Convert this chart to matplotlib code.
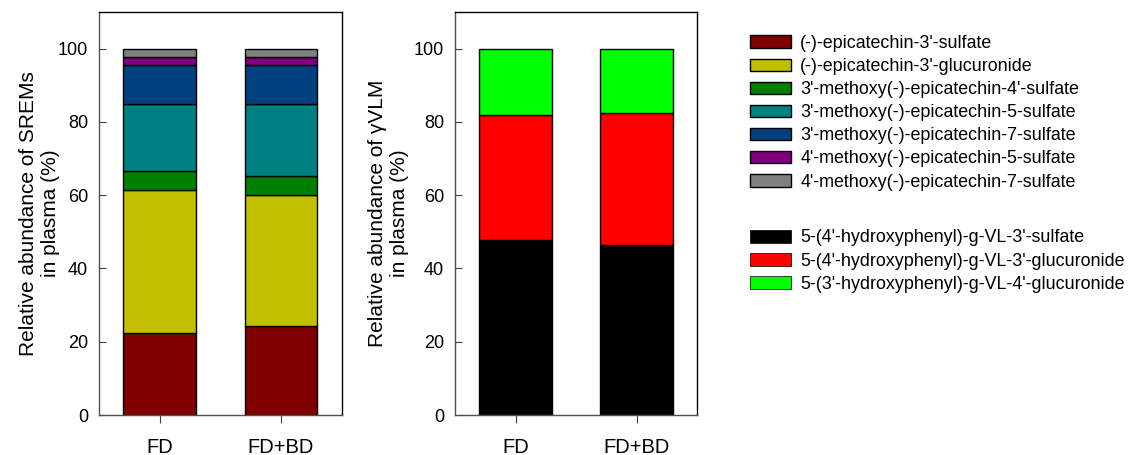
import matplotlib
matplotlib.use("Agg")

import matplotlib.pyplot as plt
import matplotlib.patches as mpatches
import numpy as np

plt.rcParams["font.family"] = ["Liberation Sans", "DejaVu Sans"]

GROUPS = ["FD", "FD+BD"]

# SREMs composition (% of total), bottom to top
SREM_NAMES = [
    "(-)-epicatechin-3'-sulfate",
    "(-)-epicatechin-3'-glucuronide",
    "3'-methoxy(-)-epicatechin-4'-sulfate",
    "3'-methoxy(-)-epicatechin-5-sulfate",
    "3'-methoxy(-)-epicatechin-7-sulfate",
    "4'-methoxy(-)-epicatechin-5-sulfate",
    "4'-methoxy(-)-epicatechin-7-sulfate",
]
SREM_FD = [22.3, 39.2, 5.2, 18.2, 10.7, 2.0, 2.4]
SREM_FDBD = [24.3, 35.8, 5.0, 19.8, 10.5, 2.2, 2.4]
SREM_COLORS = ["#800000", "#C0C000", "#008000", "#008080",
               "#00407F", "#800080", "#808080"]

# gamma-VLM composition (% of total), bottom to top
VLM_NAMES = [
    "5-(4'-hydroxyphenyl)-g-VL-3'-sulfate",
    "5-(4'-hydroxyphenyl)-g-VL-3'-glucuronide",
    "5-(3'-hydroxyphenyl)-g-VL-4'-glucuronide",
]
VLM_FD = [47.7, 34.2, 18.1]
VLM_FDBD = [46.3, 36.1, 17.6]
VLM_COLORS = ["#000000", "#FF0000", "#00FF00"]

W, H = 1129, 455


def stacked(ax, fd, fdbd, colors):
    x = np.arange(1, len(GROUPS) + 1)
    vals = np.array([fd, fdbd]).T
    bottom = np.zeros(len(GROUPS))
    for row, c in zip(vals, colors):
        ax.bar(x, row, bottom=bottom, width=0.6, color=c,
               edgecolor="black", linewidth=1.0)
        bottom += row
    ax.set_xlim(0.5, 2.5)
    ax.set_ylim(0, 110)
    ax.set_xticks(x)
    ax.set_xticklabels(GROUPS, fontsize=14.5)
    ax.set_yticks([0, 20, 40, 60, 80, 100])
    ax.tick_params(axis="y", direction="in", length=5, labelsize=13,
                   color="#404040", pad=8)
    ax.tick_params(axis="x", direction="out", length=6, color="#404040",
                   pad=10.5)
    ax.spines["left"].set_color("#505050")
    ax.spines["bottom"].set_color("#505050")
    for s in ax.spines.values():
        s.set_linewidth(1.0)


fig = plt.figure(figsize=(W / 100, H / 100), dpi=100)

ax1 = fig.add_axes([99 / W, 40 / H, 242.5 / W, 403 / H])
stacked(ax1, SREM_FD, SREM_FDBD, SREM_COLORS)
ax1.set_ylabel("Relative abundance of SREMs\nin plasma (%)", fontsize=15,
               linespacing=1.2, labelpad=-1.5)

ax2 = fig.add_axes([455 / W, 40 / H, 242 / W, 403 / H])
stacked(ax2, VLM_FD, VLM_FDBD, VLM_COLORS)
ax2.set_ylabel("Relative abundance of γVLM\nin plasma (%)", fontsize=15,
               linespacing=1.2, labelpad=3.5)

# legends
h1 = [mpatches.Patch(facecolor=c, edgecolor="black", linewidth=1.0)
      for c in SREM_COLORS]
h2 = [mpatches.Patch(facecolor=c, edgecolor="black", linewidth=0.5)
      for c in VLM_COLORS]
leg_kw = dict(loc="upper left", frameon=False, fontsize=12.9,
              handlelength=2.3, handleheight=0.7, handletextpad=0.5,
              labelspacing=0.34, borderpad=0, borderaxespad=0)
fig.legend(h1, SREM_NAMES, bbox_to_anchor=(750 / W, 1 - 35 / H), **leg_kw)
fig.legend(h2, VLM_NAMES, bbox_to_anchor=(750 / W, 1 - 229.5 / H), **leg_kw)

fig.savefig("out.png", dpi=100)
